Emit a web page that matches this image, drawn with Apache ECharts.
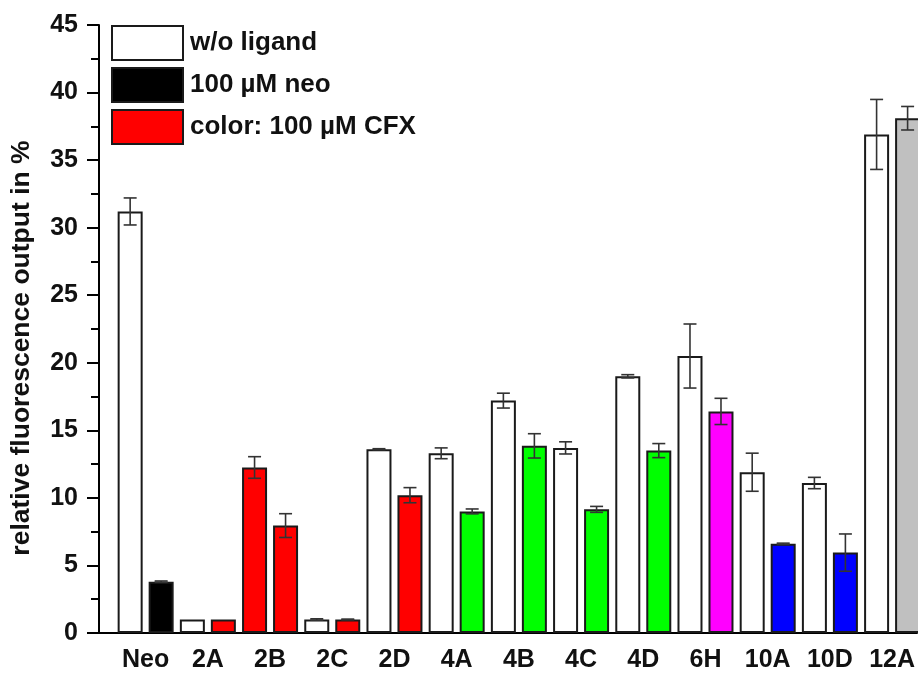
<!DOCTYPE html>
<html>
<head>
<meta charset="utf-8">
<script src="https://cdn.jsdelivr.net/npm/echarts@6/dist/echarts.min.js"></script>
<style>
  html, body { margin: 0; padding: 0; background: #ffffff; }
  #chart { width: 918px; height: 673px; }
</style>
</head>
<body>
<div id="chart"></div>
<script>
// Compounds on the x axis
const categories = ['Neo', '2A', '2B', '2C', '2D', '4A', '4B', '4C', '4D', '6H', '10A', '10D', '12A'];

// Left bar of each pair (relative fluorescence output, %) and its error
const leftValues = [31.2, 1.0, 12.25, 1.0, 13.6, 13.3, 17.2, 13.7, 19.0, 20.5, 11.9, 11.1, 36.9];
const leftErrors = [1.0, 0, 0.8, 0.05, 0.04, 0.4, 0.55, 0.45, 0.12, 2.37, 1.41, 0.42, 2.59];

// Right bar of each pair and its error
const rightValues = [3.8, 1.0, 7.95, 1.0, 10.2, 9.0, 13.85, 9.15, 13.5, 16.4, 6.6, 5.95, 38.1];
const rightErrors = [0.05, 0, 0.88, 0.03, 0.56, 0.18, 0.9, 0.22, 0.52, 0.97, 0.05, 1.38, 0.87];

// Fill colours of the bars
const leftColors = ['#ffffff', '#ffffff', '#ff0000', '#ffffff', '#ffffff', '#ffffff', '#ffffff',
                    '#ffffff', '#ffffff', '#ffffff', '#ffffff', '#ffffff', '#ffffff'];
const rightColors = ['#000000', '#ff0000', '#ff0000', '#ff0000', '#ff0000', '#00ff00', '#00ff00',
                     '#00ff00', '#00ff00', '#ff00ff', '#0000ff', '#0000ff', '#c0c0c0'];

// Legend entries
const legendNames = ['w/o ligand', '100 µM neo', 'color: 100 µM CFX'];
const legendColors = ['#ffffff', '#000000', '#ff0000'];

// y axis ticks
const yMin = 0, yMax = 45, yStep = 5;

const FONT = "'Liberation Sans', Arial, sans-serif";
const TEXT = '#111111';
const BAR_W = 25;
const BAR_GAP = 6;
const HALF_PITCH = (BAR_W + BAR_GAP) / 2;

function barData(values, colors) {
  return values.map((v, i) => ({ value: [i, v], itemStyle: { color: colors[i] } }));
}
function errData(values, errors) {
  return values.map((v, i) => [i, v, errors[i]]);
}
function errorBar(side) {
  return function (params, api) {
    const x = api.value(0), v = api.value(1), e = api.value(2);
    if (!(e > 0)) return null;
    const top = api.coord([x, v + e]);
    const bot = api.coord([x, v - e]);
    const cx = top[0] + side * HALF_PITCH;
    const cap = 6.5;
    const style = { stroke: '#333333', lineWidth: 1.6 };
    return {
      type: 'group',
      children: [
        { type: 'line', shape: { x1: cx, y1: top[1], x2: cx, y2: bot[1] }, style },
        { type: 'line', shape: { x1: cx - cap, y1: top[1], x2: cx + cap, y2: top[1] }, style },
        { type: 'line', shape: { x1: cx - cap, y1: bot[1], x2: cx + cap, y2: bot[1] }, style }
      ]
    };
  };
}

const chart = echarts.init(document.getElementById('chart'), null, { renderer: 'canvas' });

const barStyle = { borderColor: '#1a1a1a', borderWidth: 2 };

chart.setOption({
  backgroundColor: '#ffffff',
  animation: false,
  textStyle: { fontFamily: FONT },
  grid: { left: 98, right: 0, top: 25, bottom: 37, containLabel: false },
  legend: {
    orient: 'vertical',
    left: 111,
    top: 25,
    padding: 0,
    itemWidth: 71,
    itemHeight: 34,
    itemGap: 6,
    icon: 'rect',
    selectedMode: false,
    itemStyle: { borderColor: '#1a1a1a', borderWidth: 2, opacity: 1 },
    textStyle: { fontFamily: FONT, fontWeight: 'bold', fontSize: 26, color: TEXT, padding: [0, 0, 0, 2] },
    data: legendNames
  },
  xAxis: {
    type: 'value',
    min: -0.75,
    max: 12.4,
    interval: 0.25,
    axisLine: { show: true, onZero: false, lineStyle: { color: '#000', width: 2 } },
    axisTick: { show: false },
    splitLine: { show: false },
    axisLabel: {
      margin: 15,
      fontFamily: FONT,
      fontWeight: 'bold',
      fontSize: 25,
      color: TEXT,
      showMinLabel: false,
      showMaxLabel: false,
      formatter: function (v) {
        const r = Math.round(v);
        if (Math.abs(v - r) > 1e-6 || r < 0 || r >= categories.length) return '';
        return categories[r];
      }
    }
  },
  yAxis: {
    type: 'value',
    min: yMin,
    max: yMax,
    interval: yStep,
    name: 'relative fluorescence output in %',
    nameLocation: 'middle',
    nameGap: 64,
    nameTextStyle: {
      fontFamily: FONT, fontWeight: 'bold', fontSize: 26.5, color: TEXT,
      padding: [0, 38, 0, 0]
    },
    axisLine: { show: true, onZero: false, lineStyle: { color: '#000', width: 2 } },
    axisTick: { show: true, inside: false, length: 12, lineStyle: { color: '#000', width: 2 } },
    minorTick: { show: true, splitNumber: 2, length: 8, lineStyle: { color: '#000', width: 2 } },
    splitLine: { show: false },
    axisLabel: { margin: 21, fontFamily: FONT, fontWeight: 'bold', fontSize: 25, color: TEXT }
  },
  series: [
    {
      name: 'left',
      type: 'bar',
      barWidth: BAR_W,
      barGap: (BAR_GAP / BAR_W * 100) + '%',
      itemStyle: barStyle,
      data: barData(leftValues, leftColors)
    },
    {
      name: 'right',
      type: 'bar',
      barWidth: BAR_W,
      barGap: (BAR_GAP / BAR_W * 100) + '%',
      itemStyle: barStyle,
      data: barData(rightValues, rightColors)
    },
    {
      type: 'custom',
      renderItem: errorBar(-1),
      data: errData(leftValues, leftErrors),
      z: 5
    },
    {
      type: 'custom',
      renderItem: errorBar(1),
      data: errData(rightValues, rightErrors),
      z: 5
    },
    // legend entries
    ...legendNames.map((n, i) => ({
      name: n,
      type: 'scatter',
      data: [],
      itemStyle: { color: legendColors[i], opacity: 1, borderColor: '#1a1a1a', borderWidth: 2 }
    }))
  ]
});
</script>
</body>
</html>
